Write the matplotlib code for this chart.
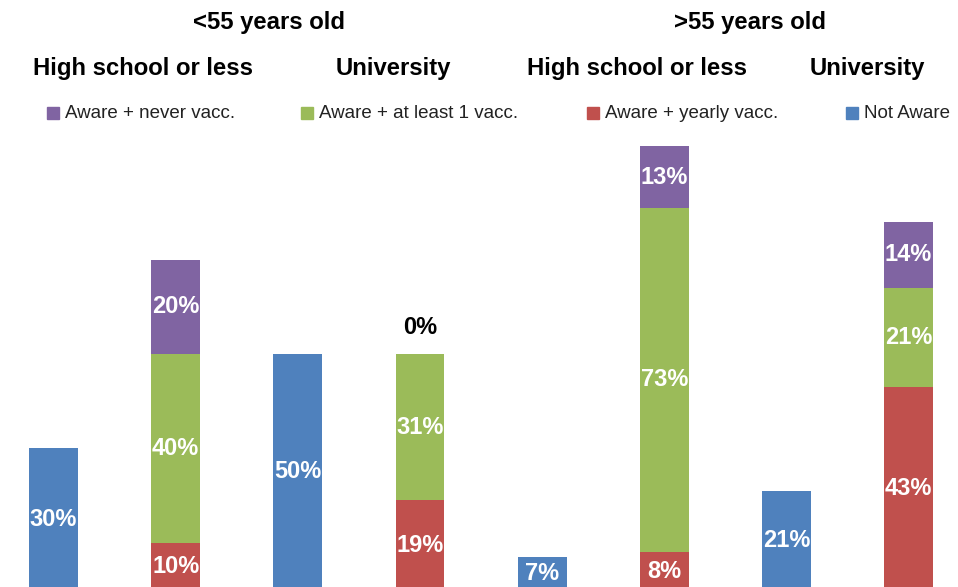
import matplotlib
matplotlib.use('Agg')
import matplotlib.pyplot as plt
from matplotlib.patches import Rectangle
import numpy as np

plt.rcParams['font.family'] = ['Liberation Sans', 'DejaVu Sans']

# <55 HS, <55 University, >55 HS, >55 University
groups = ['<55 HS', '<55 Uni', '>55 HS', '>55 Uni']
not_aware = [30, 50, 7, 21]
aware_yearly = [10, 19, 8, 43]
aware_atleast1 = [40, 31, 73, 21]
aware_never = [20, 0, 13, 14]

legend_labels = ['Aware + never vacc.', 'Aware + at least 1 vacc.',
                 'Aware + yearly vacc.', 'Not Aware']
age_titles = ['<55 years old', '>55 years old']
edu_titles = ['High school or less', 'University', 'High school or less', 'University']

PURPLE = '#8064A2'
GREEN = '#9BBB59'
RED = '#C0504D'
BLUE = '#4F81BD'

fig = plt.figure(figsize=(9.58, 5.87), dpi=100)
ax = fig.add_axes([0, -3 / 587, 1, 472 / 587])
ax.set_ylim(0, 100)
ax.set_xlim(-0.438, 7.405)
ax.axis('off')

width = 0.40
x_na = np.arange(len(groups)) * 2
x_aw = x_na + 1


def label(x, bottom, h):
    if h > 0:
        ax.text(x, bottom + h / 2, '%d%%' % h, ha='center', va='center',
                color='white', fontsize=17, fontweight='bold')


ax.bar(x_na, not_aware, width, color=BLUE)
ax.bar(x_aw, aware_yearly, width, color=RED)
ax.bar(x_aw, aware_atleast1, width, bottom=aware_yearly, color=GREEN)
bottom2 = np.array(aware_yearly) + np.array(aware_atleast1)
ax.bar(x_aw, aware_never, width, bottom=bottom2, color=PURPLE)

for i in range(len(groups)):
    label(x_na[i], 0, not_aware[i])
    label(x_aw[i], 0, aware_yearly[i])
    label(x_aw[i], aware_yearly[i], aware_atleast1[i])
    if aware_never[i] > 0:
        label(x_aw[i], bottom2[i], aware_never[i])
    else:
        ax.text(x_aw[i], bottom2[i] + 5.6, '0%', ha='center', va='center',
                color='black', fontsize=17, fontweight='bold')

# headers
for t, xp in zip(age_titles, [269, 750]):
    fig.text(xp / 958, 1 - 22 / 587, t, ha='center', va='center',
             fontsize=17.2, fontweight='bold')
for t, xp in zip(edu_titles, [143, 393, 637, 867]):
    fig.text(xp / 958, 1 - 68 / 587, t, ha='center', va='center',
             fontsize=17.2, fontweight='bold')

# legend row
leg_colors = [PURPLE, GREEN, RED, BLUE]
leg_x = [47, 301, 587, 846]
for lbl, c, xp in zip(legend_labels, leg_colors, leg_x):
    fig.patches.append(Rectangle((xp / 958, 1 - 119 / 587), 12 / 958, 12 / 587,
                                 transform=fig.transFigure, color=c))
    fig.text((xp + 18) / 958, 1 - 113 / 587, lbl, ha='left', va='center',
             fontsize=13.5, color='#222222')

fig.savefig('out.png', dpi=100)
